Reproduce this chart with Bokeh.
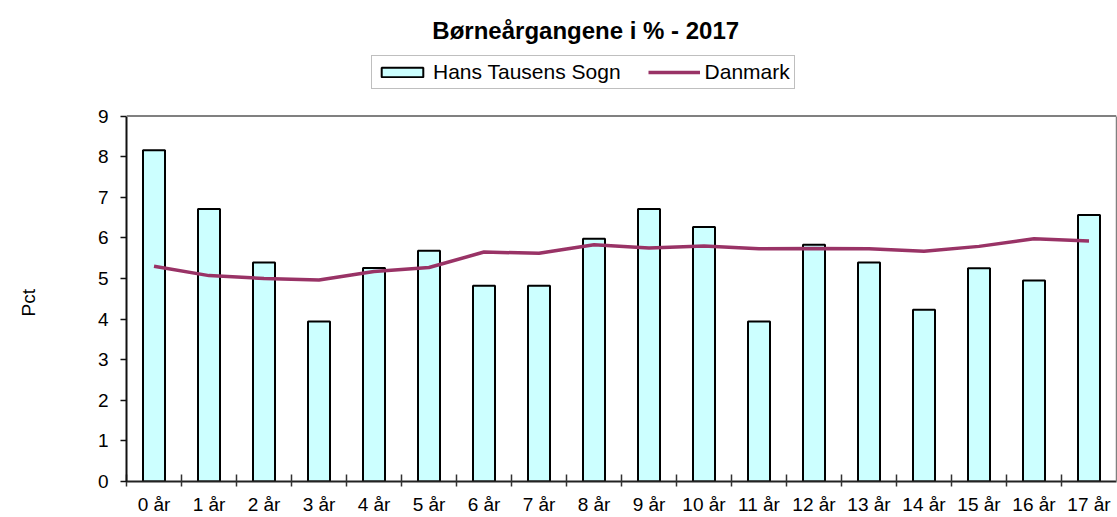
from bokeh.plotting import figure
from bokeh.models import (Range1d, FixedTicker, Legend, LegendItem, Label, Span,
                          LinearAxis, Title, ColumnDataSource)
from bokeh.embed import file_html
from bokeh.resources import INLINE

# ---- data ----
ages = ["0 år", "1 år", "2 år", "3 år", "4 år", "5 år", "6 år", "7 år", "8 år",
        "9 år", "10 år", "11 år", "12 år", "13 år", "14 år", "15 år", "16 år", "17 år"]
sogn = [8.16, 6.71, 5.39, 3.94, 5.26, 5.68, 4.82, 4.82, 5.98,
        6.71, 6.27, 3.94, 5.83, 5.39, 4.23, 5.25, 4.95, 6.56]
danmark = [5.30, 5.07, 5.00, 4.96, 5.17, 5.27, 5.65, 5.62, 5.83,
           5.75, 5.80, 5.73, 5.74, 5.73, 5.67, 5.79, 5.98, 5.92]
y_ticks = [0, 1, 2, 3, 4, 5, 6, 7, 8, 9]
title_text = "Børneårgangene i % - 2017"
series_names = ["Hans Tausens Sogn", "Danmark"]
y_label = "Pct"

FONT = "Liberation Sans"
W, H = 1117, 517
BORDER_BOTTOM = 34
PLOT_TOP = 116            # pixel row of the value-axis maximum
Y_MAX = y_ticks[-1]
frame_h = H - BORDER_BOTTOM
y_end = Y_MAX * frame_h / (frame_h - PLOT_TOP)   # frame extends above the plot area

xs = list(range(len(ages)))
src = ColumnDataSource(dict(x=xs, sogn=sogn, danmark=danmark))

p = figure(width=W, height=H, output_backend="svg", toolbar_location=None,
           x_range=Range1d(-0.5, len(ages) - 0.5), y_range=Range1d(0, y_end),
           min_border_left=126, min_border_right=1, min_border_top=0,
           min_border_bottom=BORDER_BOTTOM)
p.background_fill_color = "white"
p.border_fill_color = "white"
p.outline_line_color = None
p.xgrid.visible = False
p.ygrid.visible = False

bars = p.vbar(x="x", top="sogn", width=0.4, source=src,
              fill_color="#CCFFFF", line_color="black", line_width=2)
line = p.line(x="x", y="danmark", source=src, line_color="#993366", line_width=3.5)

# top border of plot area
p.add_layout(Span(location=Y_MAX, dimension="width", line_color="#808080", line_width=2))
# right border of plot area
ra = LinearAxis(bounds=(0, Y_MAX), ticker=FixedTicker(ticks=[]),
                major_label_text_font_size="0px", axis_line_color="#808080",
                axis_line_width=1.5, major_tick_line_color=None,
                minor_tick_line_color=None)
p.add_layout(ra, "right")

# x axis
xa = p.xaxis[0]
xa.axis_label = None
xa.ticker = FixedTicker(ticks=xs, minor_ticks=[i - 0.5 for i in range(len(ages))])
xa.major_label_overrides = {i: lbl for i, lbl in enumerate(ages)}
xa.major_tick_in = 0
xa.major_tick_out = 0
xa.minor_tick_in = 7
xa.minor_tick_out = 5
xa.minor_tick_line_color = "#333333"
xa.minor_tick_line_width = 1.5
xa.axis_line_color = "#222222"
xa.axis_line_width = 2
xa.major_label_text_font = FONT
xa.major_label_text_font_size = "19px"
xa.major_label_text_color = "black"
xa.major_label_standoff = 7

# y axis
ya = p.yaxis[0]
ya.bounds = (0, Y_MAX)
ya.axis_label = None
ya.ticker = FixedTicker(ticks=y_ticks)
ya.major_tick_in = 0
ya.major_tick_out = 6
ya.minor_tick_line_color = None
ya.major_tick_line_color = "#111111"
ya.major_tick_line_width = 1.5
ya.axis_line_color = "#111111"
ya.axis_line_width = 2
ya.major_label_text_font = FONT
ya.major_label_text_font_size = "19px"
ya.major_label_text_color = "black"
ya.major_label_standoff = 12

# value-axis title, placed beside the plot area (blank lines push it outward)
pct = Title(text=y_label + "\n\n", align="left", offset=165, standoff=27,
            vertical_align="bottom",
            text_font=FONT, text_font_size="19px", text_font_style="normal",
            text_color="black")
p.add_layout(pct, "left")

# chart title
p.add_layout(Label(x=7.85, y=Y_MAX * (frame_h - 30) / (frame_h - PLOT_TOP),
                   text=title_text, text_align="center", text_baseline="middle",
                   text_font=FONT, text_font_size="24px", text_font_style="bold",
                   text_color="black"))

legend = Legend(items=[LegendItem(label=series_names[0], renderers=[bars]),
                       LegendItem(label=series_names[1], renderers=[line])],
                orientation="horizontal", location=(245, frame_h - 91),
                padding=4, spacing=27, label_standoff=5,
                glyph_width=52, glyph_height=12,
                label_text_font=FONT, label_text_font_size="21px",
                label_text_color="black",
                border_line_color="#808080", border_line_width=1.5,
                background_fill_color="white", background_fill_alpha=1.0,
                margin=0)
p.add_layout(legend)

open("out.html", "w").write(file_html(p, INLINE))
